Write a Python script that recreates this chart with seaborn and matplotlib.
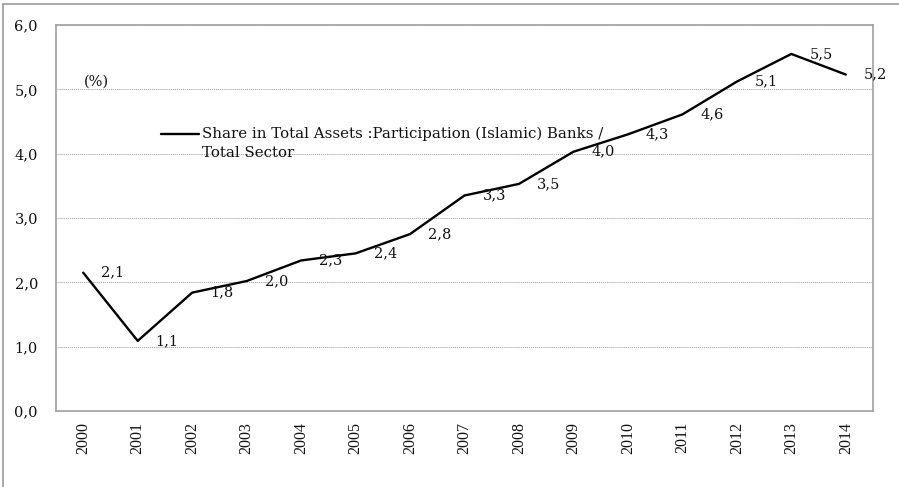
import matplotlib
matplotlib.use("Agg")
import matplotlib.pyplot as plt
import matplotlib.transforms as mtransforms
import seaborn as sns
import pandas as pd
import numpy as np
from matplotlib.lines import Line2D

# Data
years = [str(y) for y in range(2000, 2015)]
share = [2.15, 1.09, 1.84, 2.02, 2.34, 2.45, 2.75, 3.35, 3.53, 4.03, 4.30, 4.61, 5.12, 5.55, 5.23]
value_labels = ["2,1", "1,1", "1,8", "2,0", "2,3", "2,4", "2,8", "3,3", "3,5", "4,0",
                "4,3", "4,6", "5,1", "5,5", "5,2"]
y_ticks = [0, 1, 2, 3, 4, 5, 6]
y_tick_labels = ["0,0", "1,0", "2,0", "3,0", "4,0", "5,0", "6,0"]
series_name = "Share in Total Assets :Participation (Islamic) Banks /\nTotal Sector"

df = pd.DataFrame({"year": years, "share": share})

sns.set_style("white")
plt.rcParams["font.family"] = ["DejaVu Serif"]

fig = plt.figure(figsize=(8.99, 4.87), dpi=100)
ax = fig.add_axes([56 / 899, 1 - 411 / 487, (873 - 56) / 899, (411 - 25) / 487])

sns.lineplot(data=df, x="year", y="share", sort=False, color="black",
             linewidth=1.7, ax=ax, label=series_name)

# data labels to the right of each point
for i, (v, lab) in enumerate(zip(share, value_labels)):
    ax.annotate(lab, (i, v), xytext=(18, 0), textcoords="offset pixels",
                ha="left", va="center", fontsize=10.5, color="#111111")

ax.set_xlim(-0.5, len(years) - 0.5)
ax.set_ylim(0, 6)
ax.set_yticks(y_ticks)
ax.set_yticklabels(y_tick_labels, fontsize=10.5)
ax.set_xticks(range(len(years)))
ax.set_xticklabels(years, rotation=90, fontsize=11.5, family="Liberation Serif")
ax.tick_params(axis="both", length=0, colors="#111111")
ax.tick_params(axis="y", pad=13)
ax.tick_params(axis="x", pad=8)
ax.set_xlabel("")
ax.set_ylabel("")

ax.grid(axis="y", color="#999999", linestyle=(0, (1, 1)), linewidth=0.7)
for side in ["left", "right", "bottom", "top"]:
    ax.spines[side].set_color("#a0a0a0")
    ax.spines[side].set_linewidth(1.2)

ax.text(84, 487 - 82, "(%)", transform=mtransforms.IdentityTransform(),
        fontsize=10.5, va="center", color="#111111")

leg = ax.legend(loc="upper left", bbox_to_anchor=((155 - 56) / 817, (411 - 121) / 386),
                frameon=False, fontsize=10.8, handlelength=2.5, handletextpad=0.25,
                borderaxespad=0, labelspacing=0.2)
leg.get_texts()[0].set_linespacing(1.45)
leg.get_texts()[0].set_color("#111111")
# keep the legend line level with the first text line
hl = leg.legend_handles[0]
hl.set_ydata(np.asarray(hl.get_ydata(), dtype=float) + 7.5)

# outer frame (top and left edges)
fig.add_artist(Line2D([3 / 899, 3 / 899], [0, 1 - 4 / 487], color="#999999", linewidth=1.2))
fig.add_artist(Line2D([3 / 899, 1], [1 - 4 / 487, 1 - 4 / 487], color="#999999", linewidth=1.2))

fig.savefig("out.png", dpi=100)
